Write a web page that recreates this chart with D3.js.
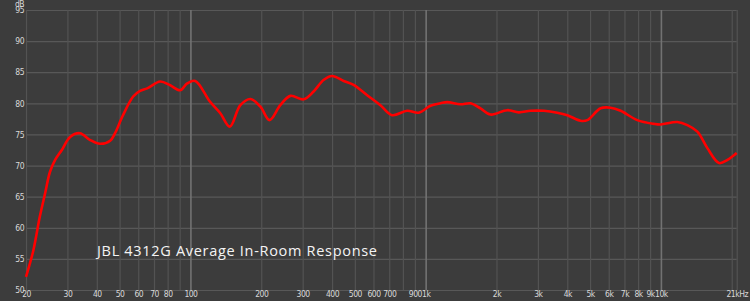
<!DOCTYPE html>
<meta charset="utf-8">
<head>
<style>
  body { margin: 0; background: #3c3c3c; }
  svg { display: block; }
  .tick text, .lbl { fill: #d8d8d8; font-family: 'DejaVu Sans', sans-serif; font-stretch: condensed; font-size: 8.5px; letter-spacing: -0.5px; }
  .domain { display: none; }
</style>
</head>
<body>
<script src="https://d3js.org/d3.v7.min.js"></script>
<script>
// measured response (Hz, dB)
var freqs = [20, 21.5, 22.9, 24.1, 25.3, 26.6, 28.4, 30.8, 33.9, 37.5, 41.3, 45.6, 47.8, 51.7, 57.1, 61.1, 65.5,
  74.4, 82, 90.4, 96.9, 104.8, 121, 134, 147, 163, 180, 198, 217, 241, 266, 303, 334, 368, 400, 448, 494,
  564, 642, 720, 834, 934, 1048, 1156, 1234, 1406, 1550, 1710, 1886, 2220, 2488, 2790, 3178, 3626, 4000,
  4556, 4864, 5542, 6112, 6742, 7938, 9340, 9976, 11746, 12956, 14290, 15760, 17660, 19180, 21000];
var dbValues = [52.1, 56.4, 61.8, 65.5, 69.0, 70.9, 72.5, 74.6, 75.2, 74.1, 73.5, 74.0, 75.2, 78.1, 81.1, 82.0, 82.4,
  83.5, 82.9, 82.1, 83.2, 83.6, 80.3, 78.4, 76.25, 79.7, 80.7, 79.5, 77.3, 79.7, 81.2, 80.65, 81.9, 83.75, 84.4, 83.6, 82.95,
  81.3, 79.7, 78.1, 78.8, 78.5, 79.6, 80.0, 80.2, 79.85, 80.0, 79.2, 78.2, 78.9, 78.55, 78.8, 78.8, 78.5, 78.1,
  77.2, 77.3, 79.2, 79.3, 78.8, 77.3, 76.7, 76.6, 77.0, 76.5, 75.45, 72.8, 70.4, 70.9, 72.0];

var gridFreqs = [20, 30, 40, 50, 60, 70, 80, 90, 100, 200, 300, 400, 500, 600, 700, 800, 900,
  1000, 2000, 3000, 4000, 5000, 6000, 7000, 8000, 9000, 10000, 20000, 21000];
var majorFreqs = [100, 1000, 10000];
var xLabels = {20: "20", 30: "30", 40: "40", 50: "50", 60: "60", 70: "70", 80: "80", 100: "100",
  200: "200", 300: "300", 400: "400", 500: "500", 600: "600", 700: "700", 900: "900", 1000: "1k",
  2000: "2k", 3000: "3k", 4000: "4k", 5000: "5k", 6000: "6k", 7000: "7k", 8000: "8k", 9000: "9k",
  10000: "10k", 21000: "21kHz"};
var yTicks = [50, 55, 60, 65, 70, 75, 80, 85, 90, 95];
var title = "JBL 4312G Average In-Room Response";

var W = 750, H = 301;
var plot = {left: 26, right: 736.7, top: 10, bottom: 290};

var svg = d3.select("body").append("svg")
    .attr("width", W)
    .attr("height", H);

svg.append("rect").attr("width", W).attr("height", H).attr("fill", "#3c3c3c");

var x = d3.scaleLog().domain([20, 21000]).range([plot.left, plot.right]);
var y = d3.scaleLinear().domain([50, 95]).range([plot.bottom, plot.top]);

// horizontal grid + dB labels
var gy = svg.append("g")
    .attr("transform", "translate(" + plot.left + ",0)")
    .call(d3.axisLeft(y).tickValues(yTicks).tickSize(-(plot.right - plot.left)).tickPadding(2).tickFormat(d3.format("d")));
gy.selectAll("line").attr("stroke", "#585858").attr("stroke-width", 1.2);

// vertical grid + freq labels
var gx = svg.append("g")
    .attr("transform", "translate(0," + plot.bottom + ")")
    .call(d3.axisBottom(x).tickValues(gridFreqs).tickSize(-(plot.bottom - plot.top)).tickPadding(1)
      .tickFormat(function(d) { return xLabels[d] || ""; }));
gx.selectAll("line")
    .attr("stroke", function(d) { return majorFreqs.indexOf(d) >= 0 ? "#727272" : "#535353"; })
    .attr("stroke-width", function(d) { return majorFreqs.indexOf(d) >= 0 ? 1.6 : 1.2; });
gx.selectAll("text").attr("dy", "0.65em");

svg.append("text")
    .attr("class", "lbl")
    .attr("x", 15).attr("y", 7)
    .text("dB");

svg.append("text")
    .attr("x", 97).attr("y", 256)
    .attr("fill", "#f4f4f4")
    .attr("textLength", 280)
    .attr("lengthAdjust", "spacing")
    .style("font-family", "'Open Sans', sans-serif")
    .style("font-size", "14.5px")
    .text(title);

var line = d3.line()
    .x(function(d, i) { return x(freqs[i]); })
    .y(function(d) { return y(d); })
    .curve(d3.curveCatmullRom.alpha(0.5));

svg.append("path")
    .datum(dbValues)
    .attr("fill", "none")
    .attr("stroke", "#ff0000")
    .attr("stroke-width", 2.6)
    .attr("stroke-linejoin", "round")
    .attr("d", line);
</script>
</body>
